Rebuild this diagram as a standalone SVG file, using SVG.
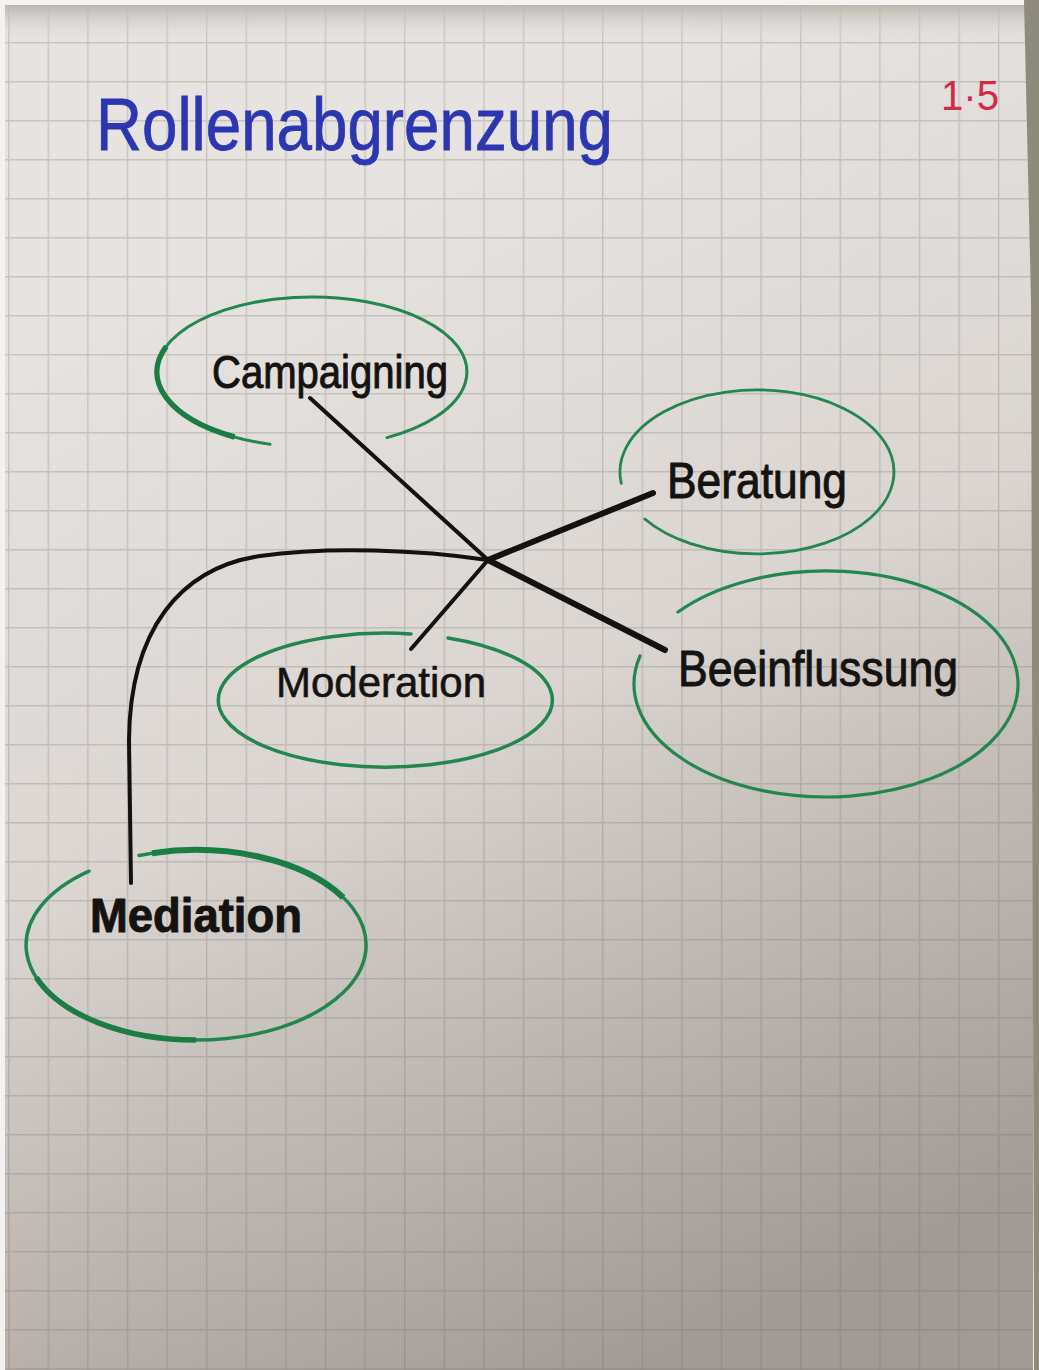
<svg xmlns="http://www.w3.org/2000/svg" width="1039" height="1370" viewBox="0 0 1039 1370">
  <defs>
    <linearGradient id="paper" gradientUnits="userSpaceOnUse" x1="300" y1="200" x2="800" y2="1300">
      <stop offset="0" stop-color="#e7e3e0"/>
      <stop offset="0.45" stop-color="#dad5d1"/>
      <stop offset="0.7" stop-color="#bfb8b3"/>
      <stop offset="1" stop-color="#a19a95"/>
    </linearGradient>
    <linearGradient id="topShade" x1="0" y1="0" x2="0" y2="1">
      <stop offset="0" stop-color="#b9b1ab" stop-opacity="0.9"/>
      <stop offset="1" stop-color="#e7e3e0" stop-opacity="0"/>
    </linearGradient>
    <pattern id="grid" patternUnits="userSpaceOnUse" x="8" y="3" width="39.6" height="39">
      <path d="M 0.7 0 V 39 M 0 0.7 H 39.6" fill="none" stroke="#6e6460" stroke-opacity="0.24" stroke-width="1.4"/>
    </pattern>
    <style>
      .ell { fill: none; stroke: #22874e; stroke-linecap: round; }
      .thick { stroke: #1b7d44; stroke-linecap: butt; }
      .lbl { font-family: "Liberation Sans", "DejaVu Sans", sans-serif; fill: #151311; stroke: #151311; stroke-width: 1; stroke-linejoin: round; }
      .conn { fill: none; stroke: #141210; stroke-linecap: round; stroke-linejoin: round; }
    </style>
  </defs>

  <!-- background / paper -->
  <rect x="0" y="0" width="1039" height="1370" fill="#f4f2f0"/>
  <rect x="5" y="5" width="1028" height="1365" fill="url(#paper)"/>
  <rect x="5" y="5" width="1028" height="1365" fill="url(#grid)"/>
  <rect x="5" y="5" width="1028" height="38" fill="url(#topShade)"/>
  <polygon points="1024,0 1039,0 1039,1370 1034,1370 1031,300" fill="#8e8b7a"/>

  <!-- title -->
  <g id="title">
    <text x="96" y="150" font-family="Liberation Sans, DejaVu Sans, sans-serif" font-size="74" fill="#2b36b0" stroke="#2b36b0" stroke-width="0.8" textLength="517" lengthAdjust="spacingAndGlyphs">Rollenabgrenzung</text>
  </g>
  <g id="page-number">
    <text x="941" y="110" font-family="Liberation Sans, DejaVu Sans, sans-serif" font-size="42" fill="#d42a4a" textLength="58" lengthAdjust="spacingAndGlyphs">1·5</text>
  </g>

  <!-- connectors -->
  <g id="connectors">
    <path class="conn" stroke-width="4" d="M 310 398 L 488 560"/>
    <path class="conn" stroke-width="6" d="M 488 560 L 653 493"/>
    <path class="conn" stroke-width="6" d="M 488 560 L 665 650"/>
    <path class="conn" stroke-width="4" d="M 488 560 L 411 649"/>
    <path class="conn" stroke-width="4" d="M 488 560 C 420 550, 330 546, 260 556 C 180 568, 130 630, 129 740 L 131 883"/>
  </g>

  <!-- nodes -->
  <g id="campaigning">
    <path class="ell" stroke-width="3" d="M 270 444.2 A 155 75 0 1 1 387 437.6"/>
    <path class="ell thick" stroke-width="5.5" d="M 234.5 437 A 155 75 0 0 1 166.3 346.3"/>
    <text class="lbl" x="212" y="388" font-size="46" textLength="236" lengthAdjust="spacingAndGlyphs">Campaigning</text>
  </g>

  <g id="beratung">
    <path class="ell" stroke-width="2.8" d="M 621.3 483.4 A 137 82 0 1 1 644.8 519"/>
    <text class="lbl" x="667" y="498" font-size="50" textLength="180" lengthAdjust="spacingAndGlyphs">Beratung</text>
  </g>

  <g id="beeinflussung">
    <path class="ell" stroke-width="3.2" d="M 678 612 A 192 113 0 1 1 640 656"/>
    <text class="lbl" x="678" y="686" font-size="50" textLength="280" lengthAdjust="spacingAndGlyphs">Beeinflussung</text>
  </g>

  <g id="moderation">
    <path class="ell" stroke-width="3.5" d="M 448 638 A 167 67 0 1 1 411 633.9"/>
    <text class="lbl" x="276" y="697" font-size="42" style="stroke-width:0.6" textLength="210" lengthAdjust="spacingAndGlyphs">Moderation</text>
  </g>

  <g id="mediation">
    <path class="ell" stroke-width="3.5" d="M 139 855.5 A 170 95 0 1 1 89 871.2"/>
    <path class="ell thick" stroke-width="6" d="M 152 853.2 A 170 95 0 0 1 343.2 897.5"/>
    <path class="ell thick" stroke-width="5.5" d="M 196 1040 A 170 95 0 0 1 36.3 977.5"/>
    <text class="lbl" x="90" y="932" font-size="48" font-weight="bold" textLength="212" lengthAdjust="spacingAndGlyphs">Mediation</text>
  </g>
</svg>
